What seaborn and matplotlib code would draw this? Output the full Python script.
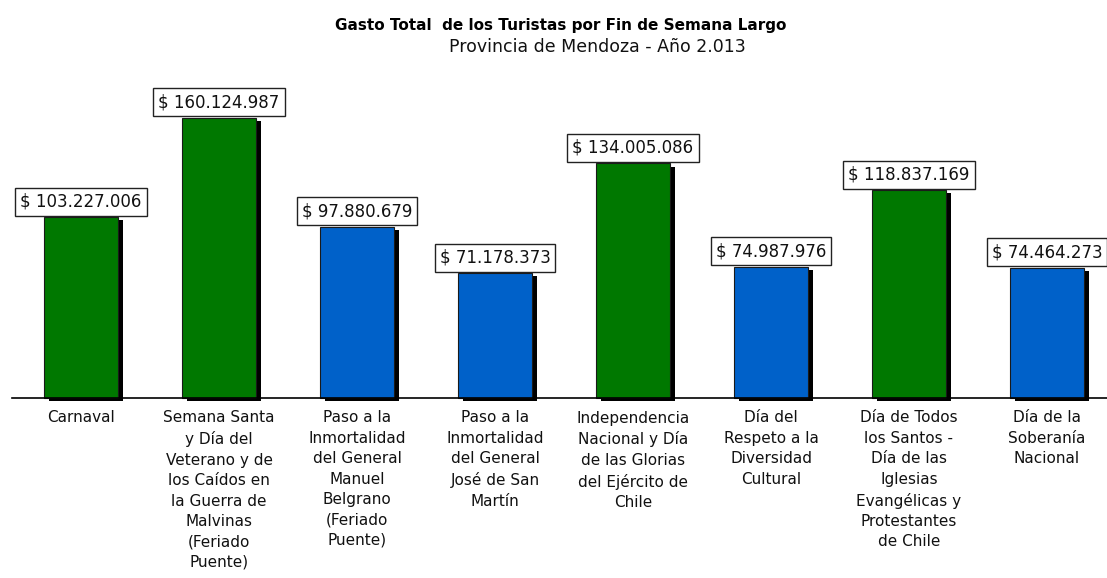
import matplotlib
matplotlib.use("Agg")
import matplotlib.pyplot as plt
import matplotlib.patheffects as pe
import seaborn as sns
import pandas as pd
import numpy as np

# ---- data ----
categories = [
    "Carnaval",
    "Semana Santa\ny Día del\nVeterano y de\nlos Caídos en\nla Guerra de\nMalvinas\n(Feriado\nPuente)",
    "Paso a la\nInmortalidad\ndel General\nManuel\nBelgrano\n(Feriado\nPuente)",
    "Paso a la\nInmortalidad\ndel General\nJosé de San\nMartín",
    "Independencia\nNacional y Día\nde las Glorias\ndel Ejército de\nChile",
    "Día del\nRespeto a la\nDiversidad\nCultural",
    "Día de Todos\nlos Santos -\nDía de las\nIglesias\nEvangélicas y\nProtestantes\nde Chile",
    "Día de la\nSoberanía\nNacional",
]
values = [103227006, 160124987, 97880679, 71178373, 134005086, 74987976, 118837169, 74464273]
groups = ["verde", "verde", "azul", "azul", "verde", "azul", "verde", "azul"]
title = "Gasto Total  de los Turistas por Fin de Semana Largo"
subtitle = "Provincia de Mendoza - Año 2.013"

sns.set_style("white")
plt.rcParams['font.family'] = ['DejaVu Sans']

df = pd.DataFrame({"cat": categories, "val": values, "grp": groups})
palette = {"verde": "#007800", "azul": "#0061C9"}

W, H = 1107, 578
fig = plt.figure(figsize=(W / 100, H / 100), dpi=100)
ax = fig.add_axes([12 / W, 180 / H, 1104 / W, 338 / H])

sns.barplot(data=df, x="cat", y="val", hue="grp", palette=palette,
            dodge=False, width=0.534, legend=False, ax=ax, saturation=1)

for p in ax.patches:
    p.set_edgecolor("#1a1a1a")
    p.set_linewidth(0.8)
    p.set_clip_on(False)
    p.set_path_effects([pe.SimplePatchShadow(offset=(3.4, -2.2), shadow_rgbFace="black", alpha=1.0),
                        pe.Normal()])

for i, v in enumerate(values):
    ax.annotate("$ " + f"{v:,}".replace(",", "."), xy=(i, v), xytext=(0, 4.7),
                textcoords="offset points", ha="center", va="bottom", fontsize=12,
                color="#111111", annotation_clip=False,
                bbox=dict(boxstyle="square,pad=0.3", fc="white", ec="#222222", lw=1))

ax.set_xlim(-0.5, 7.5)
ax.set_ylim(0, 338 / 1.75 * 1e6)
ax.set_xlabel("")
ax.set_ylabel("")
ax.set_yticks([])
ax.set_xticks(range(len(categories)))
ax.set_xticklabels(categories)
ax.set_xticks(np.arange(-0.5, len(categories), 1), minor=True)
ax.tick_params(axis="x", which="major", length=0, pad=9, labelsize=11, labelcolor="#111111")
ax.tick_params(axis="x", which="minor", length=4.5, width=1, color="black", direction="out")
for lbl in ax.get_xticklabels():
    lbl.set_linespacing(1.45)
    lbl.set_multialignment("center")

for s in ["top", "right", "left"]:
    ax.spines[s].set_visible(False)
ax.spines["bottom"].set_color("black")
ax.spines["bottom"].set_linewidth(1.2)

fig.text(561 / W, 1 - 30 / H, title, ha="center", va="baseline",
         fontsize=11, fontweight="bold", color="black")
fig.text(597 / W, 1 - 52 / H, subtitle, ha="center", va="baseline",
         fontsize=12.5, color="#111111")

fig.savefig("out.png", dpi=100)
